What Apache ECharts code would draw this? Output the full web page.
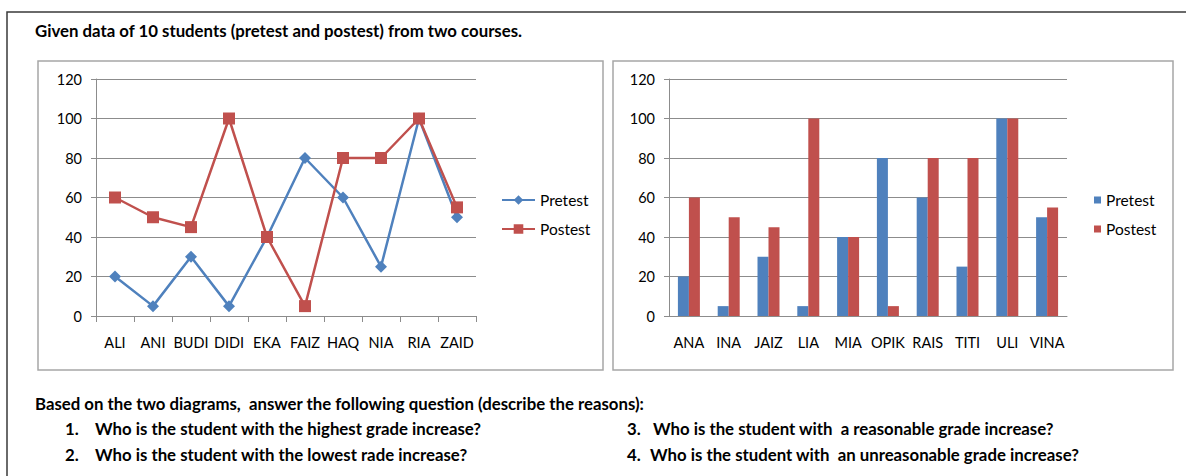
<!DOCTYPE html>
<html lang="en">
<head>
    <meta charset="UTF-8">
    <title>Pretest and postest</title>
    <script src="https://cdn.jsdelivr.net/npm/echarts@6/dist/echarts.min.js"></script>
    <style type="text/css">
        html, body { margin: 0; padding: 0; background: #fff; }
        #main { width: 1186px; height: 476px; }
    </style>
</head>
<body>
<div id="main"></div>
<script type="text/javascript">
    // course 1 (line chart) and course 2 (bar chart)
    var namesA = ['ALI', 'ANI', 'BUDI', 'DIDI', 'EKA', 'FAIZ', 'HAQ', 'NIA', 'RIA', 'ZAID'];
    var namesB = ['ANA', 'INA', 'JAIZ', 'LIA', 'MIA', 'OPIK', 'RAIS', 'TITI', 'ULI', 'VINA'];
    var pretestA = [20, 5, 30, 5, 40, 80, 60, 25, 100, 50];
    var postestA = [60, 50, 45, 100, 40, 5, 80, 80, 100, 55];
    var pretestB = [20, 5, 30, 5, 40, 80, 60, 25, 100, 50];
    var postestB = [60, 50, 45, 100, 40, 5, 80, 80, 100, 55];
    var yTicks = [0, 20, 40, 60, 80, 100, 120];

    var titleText = 'Given data of 10 students (pretest and postest) from two courses.';
    var questionHead = 'Based on the two diagrams,  answer the following question (describe the reasons):';
    var questions = [
        ['1.', 'Who is the student with the highest grade increase?'],
        ['2.', 'Who is the student with the lowest rade increase?'],
        ['3.', 'Who is the student with  a reasonable grade increase?'],
        ['4.', 'Who is the student with  an unreasonable grade increase?']
    ];

    var blue = '#4f81bd';
    var red = '#c0504d';
    var gridGray = '#8c8c8c';
    var font = 'Lato, "Open Sans", sans-serif';
    var bold = 'bold 16.8px ' + font;

    var myChart = echarts.init(document.getElementById('main'), null, {renderer: 'svg'});

    function yAxis(gridIndex) {
        return {
            type: 'value',
            gridIndex: gridIndex,
            min: yTicks[0],
            max: yTicks[yTicks.length - 1],
            interval: 20,
            axisLine: {show: true, lineStyle: {color: gridGray, width: 1}},
            axisTick: {show: true, length: 5, lineStyle: {color: gridGray}},
            axisLabel: {color: '#000', fontFamily: font, fontSize: 14.5, margin: 14},
            splitLine: {show: true, lineStyle: {color: gridGray, width: 1}}
        };
    }

    var texts = [
        {type: 'text', left: 35, top: 22, style: {text: titleText, font: bold, fill: '#000'}},
        {type: 'text', left: 35, top: 395, style: {text: questionHead, font: bold, fill: '#000'}}
    ];
    var qPos = [[65, 95, 420], [65, 95, 446], [627, 653, 420], [627, 650, 446]];
    questions.forEach(function (q, i) {
        texts.push({type: 'text', left: qPos[i][0], top: qPos[i][2],
            style: {text: q[0], font: bold, fill: '#000'}});
        texts.push({type: 'text', left: qPos[i][1], top: qPos[i][2],
            style: {text: q[1], font: bold, fill: '#000'}});
    });

    var option = {
        animation: false,
        backgroundColor: '#fff',
        textStyle: {fontFamily: font},
        graphic: [
            {type: 'rect', shape: {x: 7, y: 12, width: 1200, height: 500}, z: -10,
                style: {fill: 'none', stroke: '#3a3a3a', lineWidth: 1.5}},
            {type: 'rect', shape: {x: 38, y: 61, width: 565, height: 309}, z: -10,
                style: {fill: 'none', stroke: '#a6a6a6', lineWidth: 1.5}},
            {type: 'rect', shape: {x: 613, y: 61, width: 560, height: 309}, z: -10,
                style: {fill: 'none', stroke: '#a6a6a6', lineWidth: 1.5}}
        ].concat(texts),
        legend: [
            {
                data: ['Pretest', 'Postest'],
                left: 501, top: 192, padding: 0,
                orient: 'vertical',
                itemWidth: 33, itemHeight: 12, itemGap: 13,
                textStyle: {color: '#000', fontSize: 15.5, fontFamily: font}
            },
            {
                data: [{name: 'Pretest', icon: 'rect'}, {name: 'Postest', icon: 'rect'}],
                left: 1094, top: 192, padding: 0,
                orient: 'vertical',
                itemWidth: 7, itemHeight: 7, itemGap: 13,
                textStyle: {color: '#000', fontSize: 15.5, fontFamily: font}
            }
        ],
        grid: [
            {left: 96, top: 79, width: 380, height: 237},
            {left: 669, top: 79, width: 398, height: 237}
        ],
        xAxis: [
            {
                type: 'category', gridIndex: 0, data: namesA, boundaryGap: true,
                axisLine: {lineStyle: {color: gridGray}},
                axisTick: {show: true, interval: 0, length: 6, lineStyle: {color: gridGray}},
                axisLabel: {color: '#000', fontFamily: font, fontSize: 14.5, margin: 19, interval: 0}
            },
            {
                type: 'category', gridIndex: 1, data: namesB,
                axisLine: {lineStyle: {color: gridGray}},
                axisTick: {show: false},
                axisLabel: {color: '#000', fontFamily: font, fontSize: 14.5, margin: 19, interval: 0}
            }
        ],
        yAxis: [yAxis(0), yAxis(1)],
        series: [
            {
                name: 'Pretest', type: 'line', xAxisIndex: 0, yAxisIndex: 0, data: pretestA,
                symbol: 'diamond', symbolSize: 12,
                itemStyle: {color: blue}, lineStyle: {color: blue, width: 2.5}
            },
            {
                name: 'Postest', type: 'line', xAxisIndex: 0, yAxisIndex: 0, data: postestA,
                symbol: 'rect', symbolSize: 12,
                itemStyle: {color: red}, lineStyle: {color: red, width: 2.5}
            },
            {
                name: 'Pretest', type: 'bar', xAxisIndex: 1, yAxisIndex: 1, data: pretestB,
                barWidth: 11, barGap: '0%', itemStyle: {color: blue}
            },
            {
                name: 'Postest', type: 'bar', xAxisIndex: 1, yAxisIndex: 1, data: postestB,
                barWidth: 11, barGap: '0%', itemStyle: {color: red}
            }
        ]
    };
    myChart.setOption(option);
</script>
</body>
</html>
